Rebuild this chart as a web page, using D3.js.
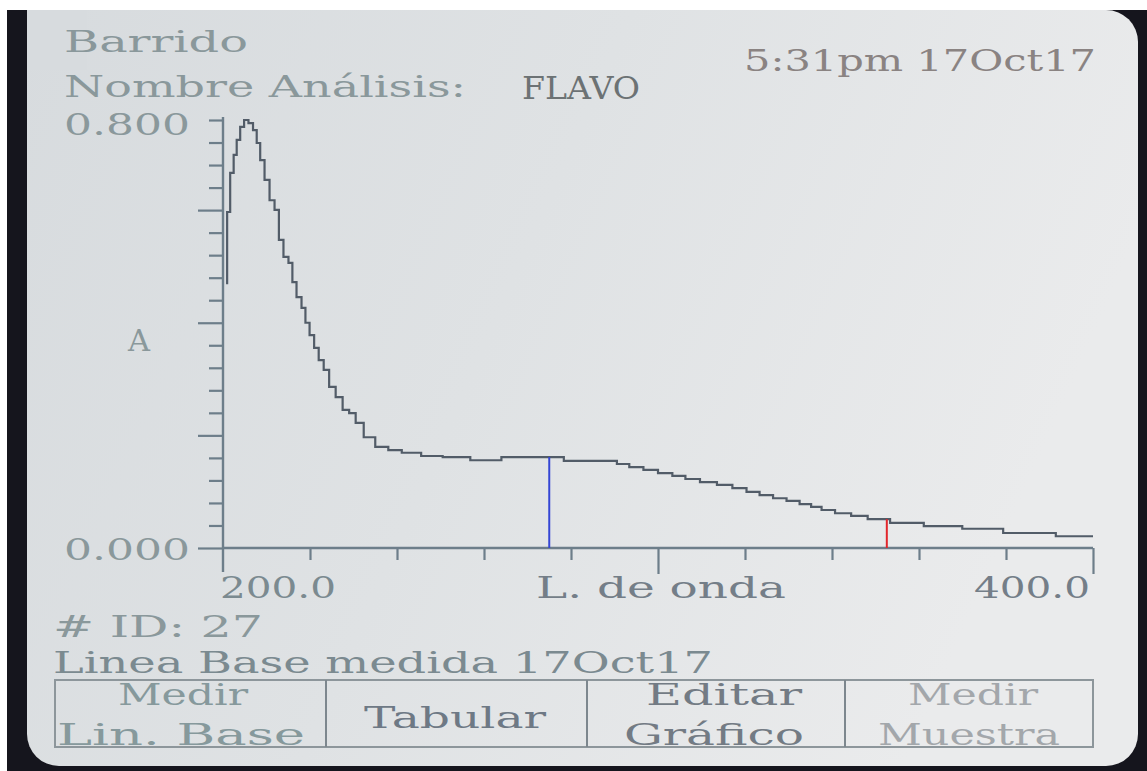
<!DOCTYPE html>
<html>
<head>
<meta charset="utf-8">
<script src="https://cdn.jsdelivr.net/npm/d3@7"></script>
<style>
  body { margin: 0; background: #ffffff; overflow: hidden; }
  text { font-family: "DejaVu Serif", "Liberation Serif", serif; }
</style>
</head>
<body>
<div id="chart"></div>
<script>
/*global d3*/

//scan data: wavelength (nm) and absorbance
var wavelengths = [200.7, 201.2, 202.1, 202.8, 203.5, 204.4, 205.3, 206.4, 207.4, 208.1,
    209.0, 210.1, 211.3, 212.4, 213.3, 214.5, 215.6, 216.3, 217.5, 218.6,
    219.3, 220.5, 221.4, 222.6, 223.7, 225.1, 226.7, 228.3, 229.7, 231.3,
    233.4, 236.6, 239.4, 242.8, 248.3, 252.7, 261.0, 267.0, 274.8, 281.9,
    289.3, 291.8, 295.0, 298.3, 301.7, 304.9, 307.7, 311.6, 315.5, 318.7,
    322.0, 324.7, 328.2, 330.9, 334.2, 336.2, 339.0, 342.4, 346.4, 350.0,
    356.7, 365.5, 374.4, 384.3, 398.6, 400.0];

var absorbance = [0.495, 0.628, 0.701, 0.735, 0.763, 0.787, 0.800, 0.794, 0.781, 0.757,
    0.725, 0.688, 0.650, 0.632, 0.576, 0.544, 0.533, 0.497, 0.469, 0.449,
    0.421, 0.398, 0.374, 0.351, 0.333, 0.301, 0.282, 0.258, 0.252, 0.234,
    0.207, 0.189, 0.183, 0.178, 0.172, 0.170, 0.164, 0.170, 0.170, 0.163,
    0.163, 0.157, 0.151, 0.146, 0.140, 0.135, 0.129, 0.123, 0.118, 0.112,
    0.105, 0.099, 0.093, 0.088, 0.082, 0.077, 0.071, 0.065, 0.060, 0.054,
    0.047, 0.041, 0.036, 0.028, 0.022, 0.022];

//cursor markers (blue and red)
var markerWavelengths = [275.0, 352.6];
var markerAbsorbance = [0.170, 0.054];

//axis ranges and tick labels
var xDomain = [200, 400];
var yDomain = [0, 0.8];
var xTickValues = [200, 220, 240, 260, 280, 300, 320, 340, 360, 380, 400];
var xMajorTicks = [200, 300, 400];
var yTickCount = 19;
var yLabels = ["0.800", "0.000"];
var xLabels = ["200.0", "400.0"];

var w = 1147, h = 771;

var svg = d3.select("#chart")
  .append("svg")
    .attr("width", w)
    .attr("height", h);

var defs = svg.append("defs");
var grad = defs.append("linearGradient")
    .attr("id", "screen")
    .attr("x1", "0").attr("y1", "0")
    .attr("x2", "1").attr("y2", "0.3");
grad.append("stop").attr("offset", "0").attr("stop-color", "#d7dbde");
grad.append("stop").attr("offset", "0.5").attr("stop-color", "#dfe2e4");
grad.append("stop").attr("offset", "1").attr("stop-color", "#eaebec");

//photo frame: dark bezel with the lcd screen on top
svg.append("rect")
    .attr("x", 7).attr("y", 10)
    .attr("width", w - 7).attr("height", h - 10)
    .attr("fill", "#15151d");

svg.append("rect")
    .attr("x", 27).attr("y", 10)
    .attr("width", 1111).attr("height", 756)
    .attr("rx", 32).attr("ry", 32)
    .attr("fill", "url(#screen)");

//square off the top-left corner of the screen like in the photo
svg.append("rect")
    .attr("x", 27).attr("y", 10)
    .attr("width", 60).attr("height", 60)
    .attr("fill", "#d7dbde");

//scales
var x = d3.scaleLinear().domain(xDomain).range([223, 1093]),
    y = d3.scaleLinear().domain(yDomain).range([548, 120]);

var axisColor = "#6d7e8a";

var yTicks = d3.range(yTickCount + 1).map(function(i) { return yDomain[1] * i / yTickCount; });
var yLong = yTicks.filter(function(d, i) { return i % 5 === 0 && i < yTickCount; });
var yShort = yTicks.filter(function(d, i) { return !(i % 5 === 0 && i < yTickCount); });

//y axis ticks (short and long)
svg.append("g")
    .attr("class", "axis axis--y")
    .attr("transform", "translate(" + x(200) + ",0)")
    .call(d3.axisLeft(y).tickValues(yShort).tickSize(14).tickFormat(""));
svg.append("g")
    .attr("class", "axis axis--y")
    .attr("transform", "translate(" + x(200) + ",0)")
    .call(d3.axisLeft(y).tickValues(yLong).tickSize(25).tickFormat(""));

//x axis ticks
svg.append("g")
    .attr("class", "axis axis--x")
    .attr("transform", "translate(0," + y(0) + ")")
    .call(d3.axisBottom(x).tickValues(xTickValues.filter(function(d) { return xMajorTicks.indexOf(d) < 0; }))
        .tickSize(12).tickFormat(""));
svg.append("g")
    .attr("class", "axis axis--x")
    .attr("transform", "translate(0," + y(0) + ")")
    .call(d3.axisBottom(x).tickValues(xMajorTicks.slice(1)).tickSize(26).tickFormat(""));

svg.selectAll(".axis .domain").remove();
svg.selectAll(".axis line")
    .attr("stroke", axisColor)
    .attr("stroke-width", 2.2);

//axis lines
svg.append("line")
    .attr("x1", x(200)).attr("x2", x(200))
    .attr("y1", y(yDomain[1]) - 3).attr("y2", y(0) + 24)
    .attr("stroke", axisColor).attr("stroke-width", 2.4);
svg.append("line")
    .attr("x1", x(200)).attr("x2", x(400))
    .attr("y1", y(0)).attr("y2", y(0))
    .attr("stroke", axisColor).attr("stroke-width", 2.4);

//spectrum line, stepped like lcd pixels
var line = d3.line()
    .curve(d3.curveStep)
    .x(function(d, i) { return x(wavelengths[i]); })
    .y(function(d) { return y(d); });

svg.append("path")
    .attr("class", "line")
    .attr("d", line(absorbance))
    .style("stroke", "#525c68")
    .style("stroke-width", 2.2)
    .style("fill", "none");

//cursor markers
var markerColors = ["#3446d4", "#e2262c"];
svg.selectAll(".marker")
    .data(markerWavelengths)
    .enter().append("line")
      .attr("class", "marker")
      .attr("x1", function(d) { return x(d); })
      .attr("x2", function(d) { return x(d); })
      .attr("y1", function(d, i) { return y(markerAbsorbance[i]); })
      .attr("y2", y(0))
      .attr("stroke", function(d, i) { return markerColors[i]; })
      .attr("stroke-width", 2);

//text helper, stretched to the lcd cell width
var label = function(txt, tx, ty, len, fill, size) {
    return svg.append("text")
        .attr("x", tx)
        .attr("y", ty)
        .attr("textLength", len)
        .attr("lengthAdjust", "spacingAndGlyphs")
        .style("font-size", (size || 30) + "px")
        .style("fill", fill)
        .text(txt);
};

var textLight = "#8a989b",
    textMid = "#7b8a90";

label("Barrido", 64, 52, 184, textLight);
label("Nombre Análisis:", 64, 97, 402, textLight);
label("FLAVO", 522, 99, 118, "#6c7274", 32);
label("5:31pm 17Oct17", 744, 71, 352, "#8a8382");

label(yLabels[0], 64, 135, 126, textLight);
label("A", 128, 351, 22, textLight);
label(yLabels[1], 64, 560, 126, textLight);

label(xLabels[0], 220, 598, 116, textMid);
label("L. de onda", 536, 598, 250, "#747e88");
label(xLabels[1], 974, 598, 116, "#747e88");

label("# ID: 27", 53, 637, 210, textLight);
label("Linea Base medida 17Oct17", 53, 673, 660, textMid);

//soft key boxes
var keyEdges = [55, 326, 587, 845, 1093];
svg.append("rect")
    .attr("x", keyEdges[0]).attr("y", 680)
    .attr("width", keyEdges[4] - keyEdges[0]).attr("height", 67)
    .attr("fill", "none")
    .attr("stroke", "#8d969b").attr("stroke-width", 2);
svg.selectAll(".divider")
    .data(keyEdges.slice(1, 4))
    .enter().append("line")
      .attr("class", "divider")
      .attr("x1", function(d) { return d; }).attr("x2", function(d) { return d; })
      .attr("y1", 680).attr("y2", 747)
      .attr("stroke", "#7d878e").attr("stroke-width", 2);

label("Medir", 118, 705, 130, "#86999c");
label("Lin. Base", 57, 745, 248, "#86999c");
label("Tabular", 364, 728, 182, "#6e7985");
label("Editar", 646, 705, 156, "#737b84");
label("Gráfico", 624, 745, 180, "#737b84");
label("Medir", 908, 705, 130, "#a3a7ab");
label("Muestra", 878, 745, 182, "#a3a7ab");
</script>
</body>
</html>
